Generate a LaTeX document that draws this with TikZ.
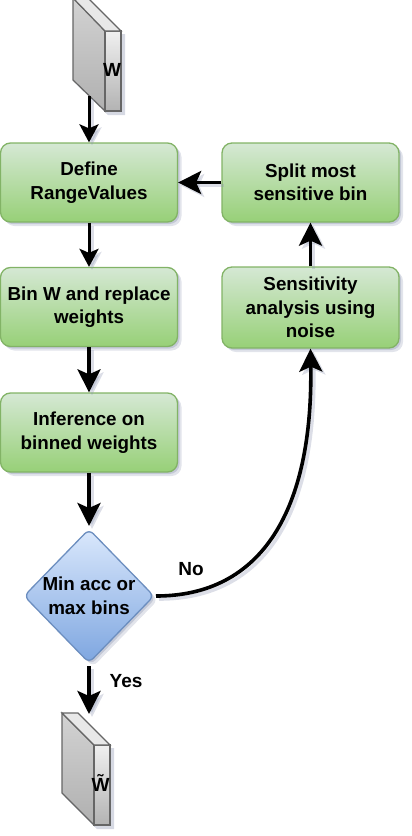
\documentclass[tikz,border=0pt]{standalone}
\usepackage{fontspec}
\setmainfont{Liberation Sans}
\usetikzlibrary{arrows.meta,shapes.geometric,shadows}
\definecolor{gstroke}{HTML}{82B366}
\definecolor{gtop}{HTML}{D5E8D4}
\definecolor{gbot}{HTML}{97D077}
\definecolor{bstroke}{HTML}{6C8EBF}
\definecolor{btop}{HTML}{DAE8FC}
\definecolor{bbot}{HTML}{7EA6E0}
\definecolor{cstroke}{HTML}{666666}
\definecolor{shadowc}{HTML}{8A93B0}
\tikzset{
  softshadow/.style={
    drop shadow={shadow xshift=2pt,shadow yshift=-2pt,fill=shadowc,opacity=.35},
    drop shadow={shadow xshift=4pt,shadow yshift=-4pt,fill=shadowc,opacity=.25}},
  procbox/.style={draw=gstroke,line width=1.3pt,rounded corners=10pt,top color=gtop,bottom color=gbot,
    minimum width=177pt,minimum height=79pt,inner sep=0pt,align=center,text=black,
    font=\fontsize{18.8}{23.5}\selectfont\bfseries,softshadow},
  decide/.style={diamond,draw=bstroke,line width=1.3pt,rounded corners=6pt,top color=btop,bottom color=bbot,
    minimum width=130pt,minimum height=134pt,inner sep=0pt,align=center,text=black,
    font=\fontsize{18.8}{23.5}\selectfont\bfseries,softshadow},
  lab/.style={font=\fontsize{19}{22}\selectfont\bfseries,inner sep=0pt},
  cubelab/.style={font=\fontsize{19}{20}\selectfont\bfseries,inner sep=0pt},
  bigtip/.style={-{Stealth[length=23pt,width=23pt,inset=5pt]}},
  smalltip/.style={-{Stealth[length=18pt,width=19pt,inset=4pt]}},
  arrsh/.style={draw=shadowc,opacity=.3,transform canvas={xshift=3pt,yshift=-3pt}},
  facefront/.style={draw=cstroke,line width=1.2pt,top color=white!88!gray,bottom color=gray!60},
  faceleft/.style={draw=cstroke,line width=1.2pt,top color=gray!35,bottom color=gray!62},
  facetop/.style={draw=cstroke,line width=1.2pt,fill=gray!18},
}
\newcommand{\linkpair}[3]{%
  \draw[#2,line width=#1,arrsh] #3;%
  \draw[#2,line width=#1,black] #3;}
\begin{document}
\begin{tikzpicture}[x=1pt,y=-1pt]
\useasboundingbox (0,0) rectangle (412,836);
% upper block
\fill[shadowc,opacity=.35] (76,-2) -- (108,34) -- (125,34) -- (125,115) -- (108,115) -- (76,84) -- cycle;
\draw[faceleft] (73,-2) -- (105,31) -- (105,111) -- (73,80) -- cycle;
\draw[facefront] (105,31) rectangle (121,111);
\draw[facetop] (73,-2) -- (88,-2) -- (121,31) -- (105,31) -- cycle;
\node[cubelab] (wa) at (112,70) {W};
\coordinate (waout) at (89,96);
% lower block
\fill[shadowc,opacity=.35] (65,716) -- (97,748) -- (114,748) -- (114,829) -- (97,829) -- (65,797) -- cycle;
\draw[faceleft] (62,713) -- (94,745) -- (94,825) -- (62,793) -- cycle;
\draw[facefront] (94,745) rectangle (110,825);
\draw[facetop] (62,713) -- (78,713) -- (110,745) -- (94,745) -- cycle;
\node[cubelab,anchor=base] (wb) at (100.5,791) {\~{W}};
\coordinate (wbin) at (89,714);
% process boxes
\node[procbox] (define) at (89,182.5) {Define\\RangeValues};
\node[procbox] (split) at (310.5,182.5) {Split most\\sensitive bin};
\node[procbox] (bin) at (89,307) {Bin W and replace\\weights};
\node[procbox,minimum height=81pt] (sens) at (310.5,307.5) {Sensitivity\\analysis using\\noise};
\node[procbox] (infer) at (89,432.5) {Inference on\\binned weights};
\node[decide] (dec) at (89,596) {Min acc or\\max bins};
% connectors
\linkpair{3pt}{smalltip}{(waout) -- (define.north)}
\linkpair{3pt}{smalltip}{(define.south) -- (bin.north)}
\linkpair{3.8pt}{bigtip}{(bin.south) -- (infer.north)}
\coordinate (decin) at (89,526);
\linkpair{3.8pt}{bigtip}{(infer.south) -- (decin)}
\coordinate (decout) at (156,596);
\coordinate (yesout) at (89,666);
\linkpair{3.8pt}{bigtip}{(yesout) -- (wbin)}
\linkpair{3.8pt}{bigtip}{(split.west) -- (define.east)}
\linkpair{3.8pt}{bigtip}{(sens.north) -- (split.south)}
\linkpair{3.6pt}{bigtip}{(decout) .. controls (262,596) and (313,510) .. (sens.south)}
% labels
\node[lab] (no) at (191,569) {No};
\node[lab] (yes) at (126,681) {Yes};
\end{tikzpicture}
\end{document}
